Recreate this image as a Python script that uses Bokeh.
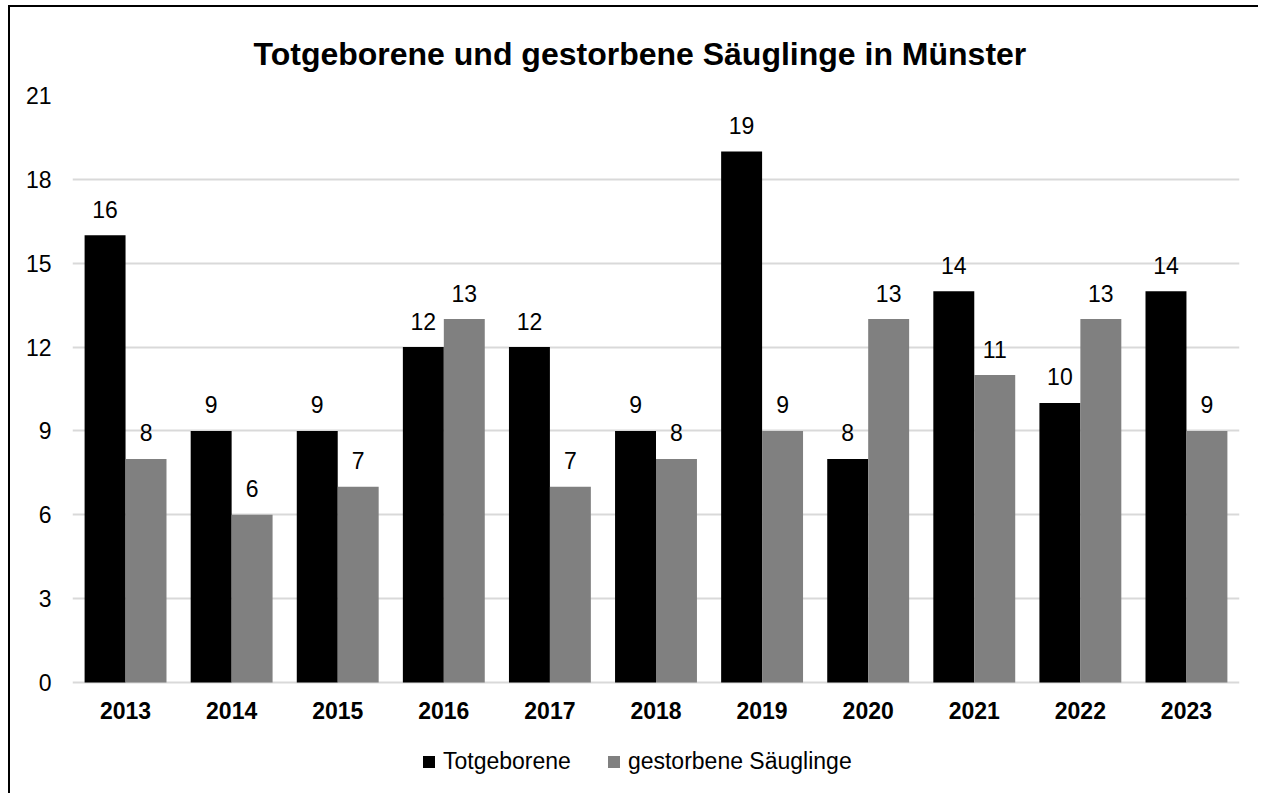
from bokeh.plotting import figure
from bokeh.models import FactorRange, Range1d, FixedTicker, ColumnDataSource, Legend, LegendItem
from bokeh.transform import dodge
from bokeh.core.properties import value
from bokeh.embed import file_html
from bokeh.resources import INLINE

years = ["2013", "2014", "2015", "2016", "2017", "2018", "2019", "2020", "2021", "2022", "2023"]
totgeborene = [16, 9, 9, 12, 12, 9, 19, 8, 14, 10, 14]
gestorbene = [8, 6, 7, 13, 7, 8, 9, 13, 11, 13, 9]
y_ticks = [0, 3, 6, 9, 12, 15, 18, 21]
series_names = ["Totgeborene", "gestorbene Säuglinge"]

FONT = "Liberation Sans"

src = ColumnDataSource(dict(
    years=years,
    tot=totgeborene,
    gest=gestorbene,
    tot_lbl=[str(v) for v in totgeborene],
    gest_lbl=[str(v) for v in gestorbene],
))

# frame: top edge at value 21, value 0 sits 587px below; the frame continues
# 113px further down to leave room for axis labels and legend inside the frame
Y_TOP = 21
Y_BOTTOM = -Y_TOP * 113 / 587

p = figure(
    x_range=FactorRange(*years),
    y_range=Range1d(Y_BOTTOM, Y_TOP),
    width=1250, height=788,
    output_backend="svg", toolbar_location=None,
    min_border_left=62, min_border_right=21, min_border_top=88, min_border_bottom=0,
)
p.styles = {"border-left": "2px solid #000000", "border-top": "2px solid #000000",
            "margin-left": "8px", "margin-top": "5px"}
p.outline_line_color = None
p.background_fill_color = "white"
p.border_fill_color = "white"

p.title.text = "Totgeborene und gestorbene Säuglinge in Münster"
p.title.text_font = FONT
p.title.text_font_size = "32px"
p.title.text_font_style = "bold"
p.title.text_color = "#000000"
p.title.align = "left"
p.title.offset = 181
p.title.standoff = 48

bw = 0.386
r1 = p.vbar(x=dodge("years", -bw / 2, range=p.x_range), top="tot", width=bw, source=src,
            fill_color="#000000", line_color=None)
r2 = p.vbar(x=dodge("years", bw / 2, range=p.x_range), top="gest", width=bw, source=src,
            fill_color="#808080", line_color=None)

p.text(x=dodge("years", -bw / 2, range=p.x_range), y="tot", text="tot_lbl", source=src,
       text_align="center", text_baseline="alphabetic", y_offset=-26,
       text_font=value(FONT), text_font_size="23px", text_color="#000000")
p.text(x=dodge("years", bw / 2, range=p.x_range), y="gest", text="gest_lbl", source=src,
       text_align="center", text_baseline="alphabetic", y_offset=-26,
       text_font=value(FONT), text_font_size="23px", text_color="#000000")

# grid
p.xgrid.grid_line_color = None
p.ygrid.ticker = FixedTicker(ticks=y_ticks)
p.ygrid.grid_line_color = "#d9d9d9"
p.ygrid.grid_line_width = 2

# y axis
p.yaxis.ticker = FixedTicker(ticks=y_ticks)
p.yaxis.axis_line_color = None
p.yaxis.major_tick_line_color = None
p.yaxis.minor_tick_line_color = None
p.yaxis.major_tick_in = 0
p.yaxis.major_tick_out = 0
p.yaxis.major_label_standoff = 21
p.yaxis.major_label_text_font = FONT
p.yaxis.major_label_text_font_size = "23px"
p.yaxis.major_label_text_color = "#000000"

# x axis, pinned at value 0
p.xaxis.fixed_location = 0
p.xaxis.axis_line_color = None
p.xaxis.major_tick_line_color = None
p.xaxis.minor_tick_line_color = None
p.xaxis.major_tick_in = 0
p.xaxis.major_tick_out = 0
p.xaxis.major_label_standoff = 19
p.xaxis.major_label_text_font = FONT
p.xaxis.major_label_text_font_size = "23px"
p.xaxis.major_label_text_font_style = "bold"
p.xaxis.major_label_text_color = "#000000"

legend = Legend(items=[
    LegendItem(label=series_names[0], renderers=[r1]),
    LegendItem(label=series_names[1], renderers=[r2]),
], location=(349, 20), orientation="horizontal")
legend.glyph_width = 15
legend.glyph_height = 15
legend.label_standoff = 7
legend.spacing = 35
legend.padding = 0
legend.margin = 0
legend.border_line_color = None
legend.background_fill_alpha = 0
legend.label_text_font = FONT
legend.label_text_font_size = "23px"
legend.label_text_color = "#000000"
p.add_layout(legend, "center")

open("out.html", "w").write(file_html(p, INLINE))
